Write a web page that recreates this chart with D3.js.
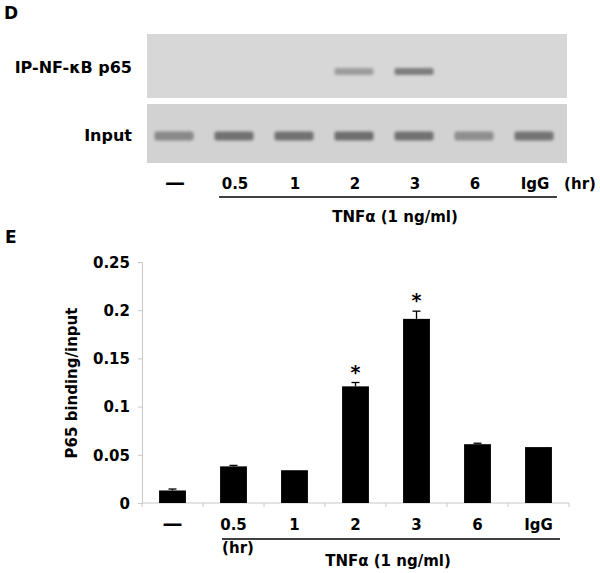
<!DOCTYPE html>
<html>
<head>
<meta charset="utf-8">
<script src="https://cdn.jsdelivr.net/npm/d3@7/dist/d3.min.js"></script>
<style>
  html, body { margin: 0; padding: 0; background: #fff; }
  svg text { font-family: "DejaVu Sans", sans-serif; font-weight: bold; fill: #000; }
</style>
</head>
<body>
<svg id="chart" width="600" height="573"></svg>
<script>
// ---- data ----
const lanes = ["\u2014", "0.5", "1", "2", "3", "6", "IgG"];
const values = [0.013, 0.038, 0.034, 0.121, 0.191, 0.061, 0.058];
const errors = [0.0015, 0.001, 0, 0.004, 0.008, 0.001, 0];
const significant = [false, false, false, true, true, false, false];
const yTicks = [0, 0.05, 0.1, 0.15, 0.2, 0.25];
const yTickLabels = ["0", "0.05", "0.1", "0.15", "0.2", "0.25"];
// gel band intensities (0 = none, 1 = darkest)
const ipBands = [0, 0, 0, 0.4, 0.62, 0, 0];
const inputBands = [0.55, 0.72, 0.72, 0.74, 0.72, 0.5, 0.7];

const svg = d3.select("#chart");
const defs = svg.append("defs");
defs.append("filter").attr("id", "blur").attr("x", "-20%").attr("y", "-80%").attr("width", "140%").attr("height", "260%")
  .append("feGaussianBlur").attr("stdDeviation", "1.8 1.5");

// panel letters
svg.append("text").attr("x", 4).attr("y", 19).attr("font-size", 17).text("D");
svg.append("text").attr("x", 5).attr("y", 243).attr("font-size", 17).text("E");

// ---- Panel D: gel ----
const gx = d3.scaleBand().domain(d3.range(lanes.length)).range([144, 564]).paddingInner(0.35).paddingOuter(0.175);
const gelColor = d3.scaleLinear().domain([0, 1]).range(["#d4d4d4", "#4a4a4a"]);

function gel(y0, y1, bg, bands, bandY, bandH) {
  svg.append("rect").attr("x", 147).attr("y", y0).attr("width", 420).attr("height", y1 - y0).attr("fill", bg);
  svg.append("g").attr("filter", "url(#blur)").selectAll("rect")
    .data(bands.map((v, i) => ({ v, i })).filter(d => d.v > 0))
    .join("rect")
    .attr("x", d => gx(d.i))
    .attr("y", bandY - bandH / 2)
    .attr("width", gx.bandwidth())
    .attr("height", bandH)
    .attr("rx", 2)
    .attr("fill", d => gelColor(d.v));
}
gel(34, 98, "#d7d7d7", ipBands, 71.5, 7);
gel(104, 163, "#d2d2d2", inputBands, 136, 9);

svg.append("text").attr("x", 132).attr("y", 73).attr("text-anchor", "end").attr("font-size", 16).text("IP-NF-\u03BAB p65");
svg.append("text").attr("x", 132).attr("y", 141).attr("text-anchor", "end").attr("font-size", 16).text("Input");

// lane labels for D
svg.append("g").selectAll("text").data(lanes).join("text")
  .attr("x", (d, i) => gx(i) + gx.bandwidth() / 2 + 1)
  .attr("y", 189)
  .attr("text-anchor", "middle")
  .attr("font-size", (d, i) => i === 0 ? 20 : 15)
  .text(d => d);
svg.append("text").attr("x", 580).attr("y", 189).attr("text-anchor", "middle").attr("font-size", 15).text("(hr)");
svg.append("line").attr("x1", 219).attr("x2", 557).attr("y1", 197).attr("y2", 197).attr("stroke", "#000").attr("stroke-width", 1.3);
svg.append("text").attr("x", 395).attr("y", 222).attr("text-anchor", "middle").attr("font-size", 15).text("TNF\u03B1 (1 ng/ml)");

// ---- Panel E: bar chart ----
const x = d3.scaleBand().domain(d3.range(lanes.length)).range([142, 569]).paddingInner(0.56).paddingOuter(0.28);
const y = d3.scaleLinear().domain([0, 0.25]).range([503, 262]);

// y axis
const yAxis = d3.axisLeft(y).tickValues(yTicks).tickFormat((d, i) => yTickLabels[i]).tickSize(4).tickPadding(8);
const yg = svg.append("g").attr("transform", "translate(142,0)").call(yAxis);
yg.selectAll("path, line").attr("stroke", "#c8c8c8");
yg.selectAll("text").attr("font-size", 15).attr("font-family", "DejaVu Sans, sans-serif").attr("font-weight", "bold").attr("dy", "0.35em");

// x axis line and ticks at band boundaries
const xg = svg.append("g");
xg.append("line").attr("x1", 142).attr("x2", 569).attr("y1", 503).attr("y2", 503).attr("stroke", "#c8c8c8");
xg.selectAll("line.t").data(d3.range(lanes.length + 1)).join("line").attr("class", "t")
  .attr("x1", i => x.range()[0] + i * x.step()).attr("x2", i => x.range()[0] + i * x.step())
  .attr("y1", 503).attr("y2", 507).attr("stroke", "#c8c8c8");

// bars
svg.append("g").selectAll("rect").data(values).join("rect")
  .attr("x", (d, i) => x(i))
  .attr("y", d => y(d))
  .attr("width", x.bandwidth())
  .attr("height", d => y(0) - y(d))
  .attr("fill", "#000");

// error bars (upper only)
const eg = svg.append("g").attr("stroke", "#000").attr("stroke-width", 1.3);
values.forEach((v, i) => {
  if (errors[i] <= 0) return;
  const cx = x(i) + x.bandwidth() / 2;
  eg.append("line").attr("x1", cx).attr("x2", cx).attr("y1", y(v)).attr("y2", y(v + errors[i]));
  eg.append("line").attr("x1", cx - 4).attr("x2", cx + 4).attr("y1", y(v + errors[i])).attr("y2", y(v + errors[i]));
});

// significance stars
svg.append("g").selectAll("text").data(values.map((v, i) => ({ v, i })).filter(d => significant[d.i])).join("text")
  .attr("x", d => x(d.i) + x.bandwidth() / 2)
  .attr("y", d => y(d.v + errors[d.i]) - 4)
  .attr("text-anchor", "middle")
  .attr("font-size", 19)
  .text("*");

// category labels
svg.append("g").selectAll("text").data(lanes).join("text")
  .attr("x", (d, i) => x(i) + x.bandwidth() / 2)
  .attr("y", 530)
  .attr("text-anchor", "middle")
  .attr("font-size", (d, i) => i === 0 ? 20 : 15)
  .text(d => d);
svg.append("line").attr("x1", 222).attr("x2", 560).attr("y1", 539).attr("y2", 539).attr("stroke", "#000").attr("stroke-width", 1.3);
svg.append("text").attr("x", 238).attr("y", 553).attr("text-anchor", "middle").attr("font-size", 15).text("(hr)");
svg.append("text").attr("x", 388).attr("y", 566).attr("text-anchor", "middle").attr("font-size", 15).text("TNF\u03B1 (1 ng/ml)");

// y title
svg.append("text").attr("transform", "translate(77,383) rotate(-90)").attr("text-anchor", "middle").attr("font-size", 15).text("P65 binding/input");
</script>
</body>
</html>
